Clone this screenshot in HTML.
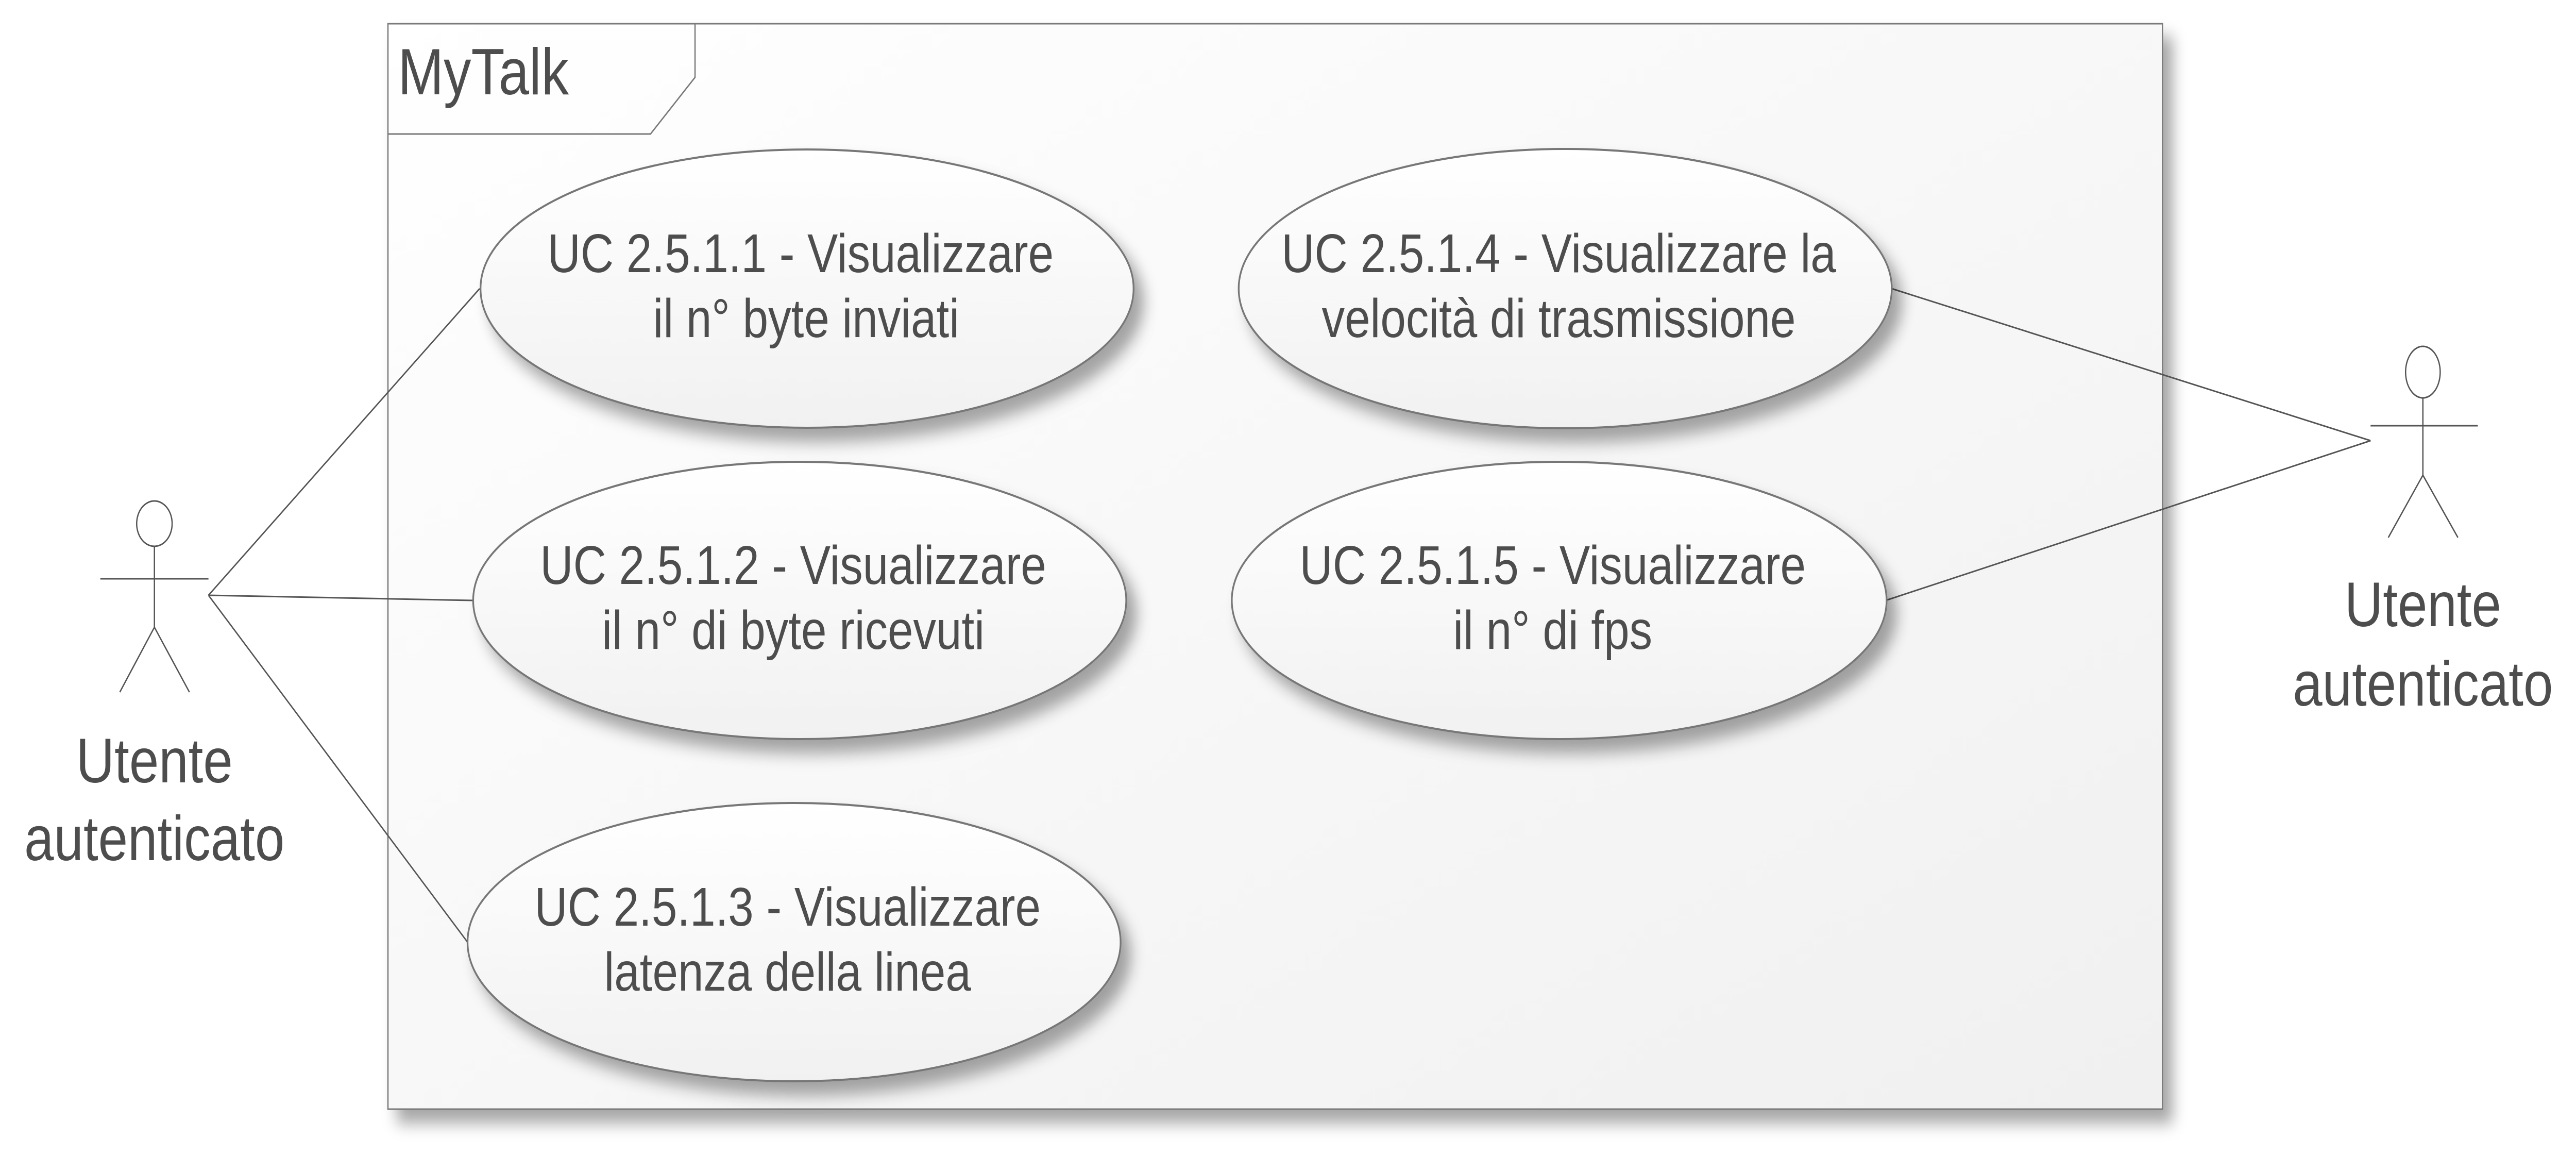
<!DOCTYPE html>
<html><head><meta charset="utf-8"><style>html,body{margin:0;padding:0;background:#fff;width:100%;height:100%;overflow:hidden}svg{display:block;width:100vw;height:100vh}</style></head>
<body>
<svg viewBox="0 0 5956 2241" preserveAspectRatio="none" xmlns="http://www.w3.org/2000/svg">
<defs>
<filter id="sh" x="-10%" y="-10%" width="130%" height="140%">
<feDropShadow dx="22" dy="26" stdDeviation="16" flood-color="#000" flood-opacity="0.35"/>
</filter>
<linearGradient id="gf" x1="0" y1="0" x2="1" y2="1">
<stop offset="0" stop-color="#ffffff"/><stop offset="1" stop-color="#f0f0f0"/>
</linearGradient>
<linearGradient id="ge" x1="0" y1="0" x2="0" y2="1">
<stop offset="0" stop-color="#ffffff"/><stop offset="1" stop-color="#f1f1f1"/>
</linearGradient>
</defs>
<g font-family="Liberation Sans, sans-serif" fill="#4d4d4d">
<rect x="897" y="46" width="4103" height="2106" fill="url(#gf)" stroke="#7a7a7a" stroke-width="3" filter="url(#sh)"/>
<path d="M897,46 L1607,46 L1607,150 L1504,260 L897,260" fill="none" stroke="#7a7a7a" stroke-width="3"/>
<text x="920" y="183" font-size="127">MyTalk</text>

<g stroke="#555" stroke-width="3" fill="none">
<line x1="482" y1="1155" x2="1109" y2="560"/>
<line x1="482" y1="1155" x2="1093" y2="1165"/>
<line x1="482" y1="1155" x2="1081" y2="1828"/>
<line x1="5481" y1="855" x2="4374" y2="560"/>
<line x1="5481" y1="855" x2="4360" y2="1165"/>
</g>

<g fill="url(#ge)" stroke="#777" stroke-width="4" filter="url(#sh)">
<ellipse cx="1866" cy="560" rx="755" ry="270"/>
<ellipse cx="1849" cy="1165" rx="755" ry="269"/>
<ellipse cx="1836" cy="1828" rx="755" ry="270"/>
<ellipse cx="3619" cy="560" rx="755" ry="271"/>
<ellipse cx="3605" cy="1165" rx="757" ry="269"/>
</g>

<g font-size="106" text-anchor="middle">
<text x="1851" y="528">UC 2.5.1.1 - Visualizzare</text>
<text x="1864" y="654">il n° byte inviati</text>
<text x="1834" y="1133">UC 2.5.1.2 - Visualizzare</text>
<text x="1834" y="1259">il n° di byte ricevuti</text>
<text x="1821" y="1796">UC 2.5.1.3 - Visualizzare</text>
<text x="1821" y="1922">latenza della linea</text>
<text x="3604" y="528">UC 2.5.1.4 - Visualizzare la</text>
<text x="3604" y="654">velocità di trasmissione</text>
<text x="3590" y="1133">UC 2.5.1.5 - Visualizzare</text>
<text x="3590" y="1259">il n° di fps</text>
</g>

<g stroke="#555" stroke-width="3" fill="none">
<ellipse cx="357" cy="1016" rx="41" ry="44"/>
<line x1="357" y1="1060" x2="357" y2="1217"/>
<line x1="232" y1="1123" x2="482" y2="1123"/>
<line x1="357" y1="1217" x2="277" y2="1343"/>
<line x1="357" y1="1217" x2="438" y2="1343"/>
<ellipse cx="5602" cy="722" rx="40" ry="50"/>
<line x1="5602" y1="772" x2="5602" y2="922"/>
<line x1="5481" y1="826" x2="5729" y2="826"/>
<line x1="5602" y1="922" x2="5522" y2="1043"/>
<line x1="5602" y1="922" x2="5683" y2="1043"/>
</g>
<g font-size="123" text-anchor="middle">
<text x="357" y="1518">Utente</text>
<text x="357" y="1669">autenticato</text>
<text x="5602" y="1215">Utente</text>
<text x="5602" y="1369">autenticato</text>
</g>
</g>
</svg>
</body></html>
